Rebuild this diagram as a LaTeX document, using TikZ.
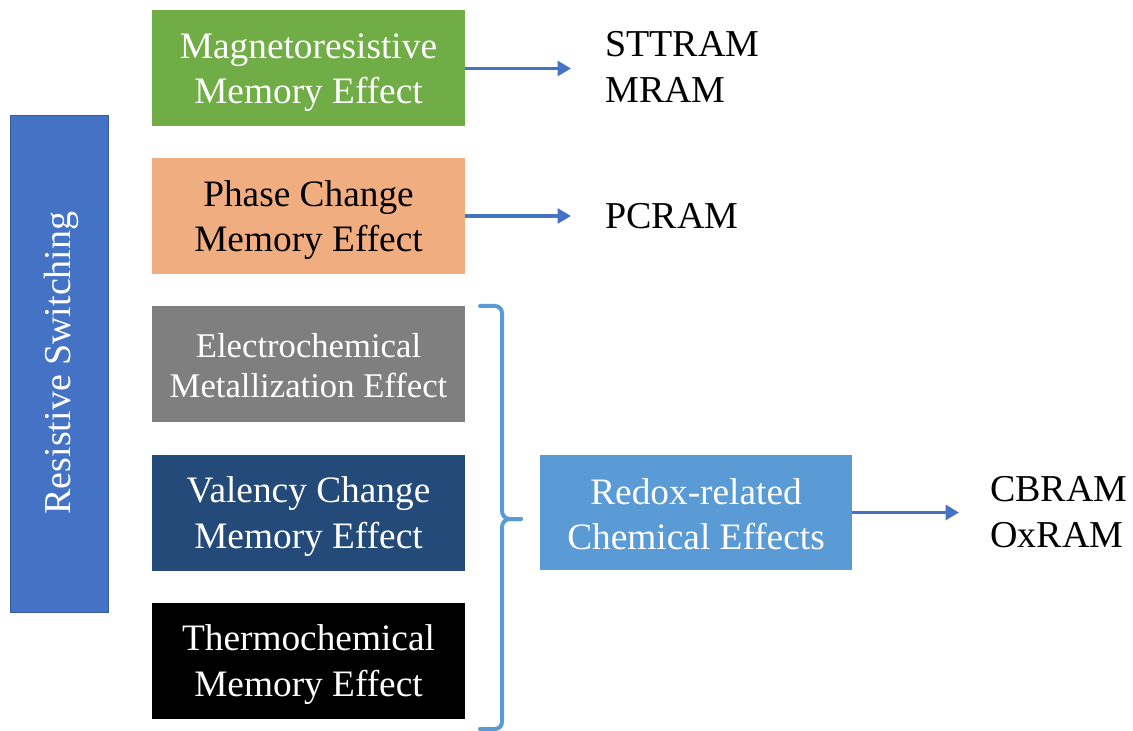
\documentclass[tikz,border=0pt]{standalone}
\usepackage{fontspec}
\setmainfont{Liberation Serif}
\usetikzlibrary{arrows.meta}
\definecolor{rsblue}{HTML}{4472C4}
\definecolor{mgreen}{HTML}{70AD47}
\definecolor{porange}{HTML}{F0AE80}
\definecolor{egray}{HTML}{7F7F7F}
\definecolor{vblue}{HTML}{234A78}
\definecolor{lblue}{HTML}{5B9BD5}
\definecolor{arrblue}{HTML}{4472C4}
\tikzset{
  effbox/.style={rectangle, inner sep=0pt, minimum width=234.75pt, minimum height=87pt},
  boxtext/.style={align=center, inner sep=0pt, text=white, font=\fontsize{28}{34}\selectfont},
  memlabel/.style={anchor=west, align=left, inner sep=0pt, font=\fontsize{28.5}{34}\selectfont},
  feed/.style={draw=arrblue, line width=2.6pt, -{Triangle[length=10pt,width=11pt]}},
}
\begin{document}
\begin{tikzpicture}[x=0.75pt,y=-0.75pt]
\useasboundingbox (0,0) rectangle (1133,731);

% main category bar
\node[rectangle, fill=rsblue, draw=rsblue!80!black, line width=0.4pt, inner sep=0pt,
  minimum width=73.5pt, minimum height=372.75pt] (rs) at (59,363.5) {};
\node[rotate=90, text=white, font=\fontsize{28.5}{34}\selectfont] (rslabel) at (61,363) {Resistive Switching};

% physical effects
\node[effbox, fill=mgreen] (mag) at (308.5,68.5) {};
\node[boxtext] (magt) at ([yshift=-3pt]mag.center) {Magnetoresistive\\Memory Effect};
\node[effbox, fill=porange] (pcm) at (308.5,216) {};
\node[boxtext, text=black] (pcmt) at ([yshift=-3pt]pcm.center) {Phase Change\\Memory Effect};
\node[effbox, fill=egray] (ecm) at (308.5,364) {};
\node[boxtext, font=\fontsize{26}{30}\selectfont] (ecmt) at ([yshift=-1pt]ecm.center) {Electrochemical\\Metallization Effect};
\node[effbox, fill=vblue] (vcm) at (308.5,512.5) {};
\node[boxtext] (vcmt) at ([yshift=-3pt]vcm.center) {Valency Change\\Memory Effect};
\node[effbox, fill=black] (tcm) at (308.5,660.5) {};
\node[boxtext] (tcmt) at ([yshift=-3pt]tcm.center) {Thermochemical\\Memory Effect};

% grouped redox effects
\node[effbox, fill=lblue, minimum width=234pt, minimum height=86.25pt] (redox) at (696,512.5) {};
\node[boxtext] (redoxt) at ([yshift=-1.5pt]redox.center) {Redox-related\\Chemical Effects};

% memory technologies
\node[memlabel] (mram) at (605,67) {STTRAM\\MRAM};
\node[memlabel] (pcram) at (605,216) {PCRAM};
\node[memlabel] (cbram) at (990,512) {CBRAM\\OxRAM};

% brace joining the three redox effects
\coordinate (btop) at (480,306);
\coordinate (bbot) at (480,729);
\coordinate (btip) at (521,519);
\draw[lblue, line width=3pt, line cap=round, line join=round]
  (btop) -- (495,306) to[out=0,in=90] (502,313) -- (502,511)
  to[out=-90,in=180] (510,519) -- (btip);
\draw[lblue, line width=3pt, line cap=round, line join=round]
  (btip) -- (510,519) to[out=180,in=90] (502,527) -- (502,722)
  to[out=-90,in=0] (495,729) -- (bbot);

% arrows
\coordinate (mramin) at (571,68.5);
\coordinate (pcramin) at (571,216);
\coordinate (cbramin) at (959,512.5);
\draw[feed] (mag.east) -- (mramin);
\draw[feed] (pcm.east) -- (pcramin);
\draw[feed] (redox.east) -- (cbramin);
\end{tikzpicture}
\end{document}
